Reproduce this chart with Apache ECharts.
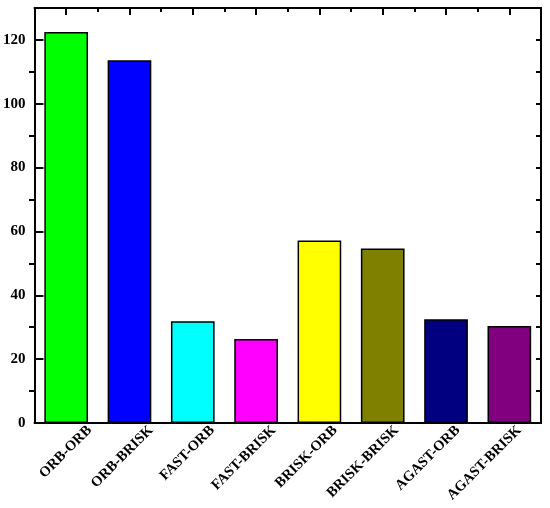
<!DOCTYPE html>
<html>
<head>
<meta charset="utf-8">
<script src="https://cdn.jsdelivr.net/npm/echarts@6/dist/echarts.min.js"></script>
<style>html,body{margin:0;padding:0;background:#fff}#c{width:550px;height:508px}</style>
</head>
<body>
<div id="c"></div>
<script>
const categories = ['ORB-ORB','ORB-BRISK','FAST-ORB','FAST-BRISK','BRISK-ORB','BRISK-BRISK','AGAST-ORB','AGAST-BRISK'];
const values = [122.5, 113.6, 31.9, 26.3, 57.2, 54.7, 32.5, 30.4];
const barColors = ['#00ff00','#0000ff','#00ffff','#ff00ff','#ffff00','#808000','#000080','#800080'];
const yTickLabels = [0, 20, 40, 60, 80, 100, 120];

const FONT = 'Liberation Serif';
const L = 34, R = 9, T = 8, B = 85;
const H = 508 - T - B;
const YMAX = 130;
const top2 = T + H * (YMAX - 120) / YMAX;
const W = 550 - L - R;
const dx = 25;

const chart = echarts.init(document.getElementById('c'), null, {renderer: 'canvas'});
const lineBlack = {color: '#000', width: 2};
chart.setOption({
  animation: false,
  backgroundColor: '#fff',
  grid: [
    {left: L, right: R, top: T, bottom: B},
    {left: L, right: R, top: top2, bottom: B},
    {left: L + dx, width: W, top: T, bottom: B}
  ],
  xAxis: [
    {gridIndex: 0, type: 'category', data: categories, position: 'bottom',
     axisLine: {onZero: false, lineStyle: lineBlack}, axisTick: {show: false}, axisLabel: {show: false}},
    {gridIndex: 0, type: 'category', data: categories, position: 'top',
     axisLine: {onZero: false, lineStyle: lineBlack},
     axisTick: {show: true, inside: true, alignWithLabel: true, interval: 0, length: 7, lineStyle: {color: '#000', width: 2}},
     axisLabel: {show: false}},
    {gridIndex: 0, type: 'category', data: categories, position: 'top',
     axisLine: {show: false, onZero: false},
     axisTick: {show: true, inside: true, interval: 0, length: 4, lineStyle: {color: '#000', width: 2}},
     axisLabel: {show: false}},
    {gridIndex: 1, type: 'category', data: categories, show: false},
    {gridIndex: 2, type: 'category', data: categories, position: 'bottom',
     axisLine: {show: false, onZero: false}, axisTick: {show: false},
     axisLabel: {show: true, rotate: 45, margin: 5, interval: 0, color: '#000', fontFamily: FONT, fontWeight: 'bold', fontSize: 14.5}}
  ],
  yAxis: [
    {gridIndex: 0, type: 'value', position: 'left', min: 0, max: YMAX, interval: 20,
     axisLine: {show: true, onZero: false, lineStyle: lineBlack},
     axisTick: {show: true, inside: true, length: 9, lineStyle: {color: '#000', width: 2}},
     axisLabel: {show: true, showMaxLabel: false, margin: 9, color: '#000', fontFamily: FONT, fontWeight: 'bold', fontSize: 15,
       formatter: v => (yTickLabels.indexOf(v) >= 0 ? String(v) : '')},
     splitLine: {show: false}},
    {gridIndex: 0, type: 'value', position: 'right', min: 0, max: YMAX, interval: 10,
     axisLine: {show: true, onZero: false, lineStyle: lineBlack},
     axisTick: {show: true, inside: true, length: 5, lineStyle: {color: '#000', width: 2}},
     axisLabel: {show: false}, splitLine: {show: false}},
    {gridIndex: 1, type: 'value', position: 'left', min: 0, max: 120, interval: 20,
     axisLine: {show: false, onZero: false}, axisTick: {show: false}, axisLabel: {show: false}, splitLine: {show: false},
     minorTick: {show: true, splitNumber: 2, length: 5, lineStyle: {color: '#000', width: 2}},
     minorSplitLine: {show: false}},
    {gridIndex: 2, type: 'value', show: false, min: 0, max: YMAX}
  ],
  series: [{
    type: 'bar', xAxisIndex: 0, yAxisIndex: 0,
    barWidth: '69%',
    data: values.map((v, i) => ({value: v, itemStyle: {color: barColors[i], borderColor: '#000', borderWidth: 1.5}}))
  }]
});
</script>
</body>
</html>
